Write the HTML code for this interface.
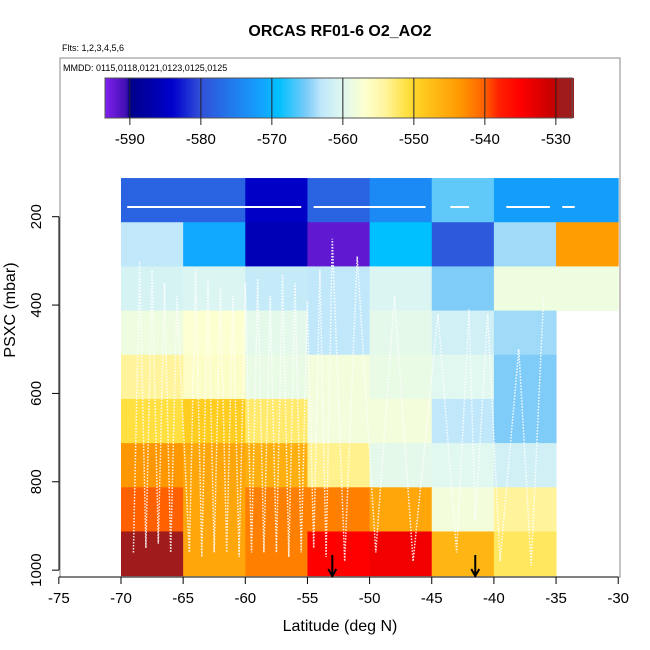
<!DOCTYPE html>
<html><head><meta charset="utf-8"><style>
body{margin:0;background:#fff}
svg{display:block;font-family:"Liberation Sans",sans-serif}
</style></head><body>
<svg id="c" width="650" height="650" viewBox="0 0 650 650" xmlns="http://www.w3.org/2000/svg">
<text x="340" y="36" text-anchor="middle" font-size="16" font-weight="bold">ORCAS RF01-6 O2_AO2</text>
<text x="62" y="51" font-size="9">Flts: 1,2,3,4,5,6</text>
<g id="cells"></g>
<g id="traces"></g>
<g id="cbar"></g>
<rect x="60" y="58" width="560" height="519" fill="none" stroke="#888" stroke-width="1"/>
<text x="63" y="71" font-size="9">MMDD: 0115,0118,0121,0123,0125,0125</text>
<g id="axes"></g>
<text x="340" y="631" text-anchor="middle" font-size="16">Latitude (deg N)</text>
<text transform="translate(15,310) rotate(-90)" text-anchor="middle" font-size="16">PSXC (mbar)</text>
</svg>
<script>
const latEdges=[-70,-65,-60,-55,-50,-45,-40,-35,-30];
const presEdges=[112.5,212.5,312.5,412.5,512.5,612.5,712.5,812.5,912.5,1012.5];
const cellValues=[
[-578,-578,-584.5,-578,-574,-566,-572,-572],
[-563,-571,-586,-592,-569,-579,-564,-544],
[-561,-560.5,-562.5,-563,-560.5,-565,-558.5,-558.5],
[-558.5,-557,-559.5,-563,-559.5,-561.5,-564,null],
[-554,-556.5,-559,-558,-559,-560,-565,null],
[-551,-549,-552.5,-558,-558,-563,-565,null],
[-543.5,-545,-546,-553.5,-559.5,-560,-561.5,null],
[-540,-545,-542,-542,-545,-558,-554,null],
[-528,-545,-542,-535,-534,-546.5,-552,null]];
const xTicks=[-75,-70,-65,-60,-55,-50,-45,-40,-35,-30];
const yTicks=[200,400,600,800,1000];
const cbTicks=[-590,-580,-570,-560,-550,-540,-530];
const arrowLats=[-53,-41.5];
const stopVals=[-593.5,-590.5,-590,-584,-580,-575,-571,-569,-565,-563,-560,-557,-554,-551,-549,-546,-543.5,-540,-538,-535,-530,-529.5,-527.7];
const stopCols=["#8020f0","#4010b0","#000088","#0000cd","#3050d8","#2080f0","#10a8ff","#00c0ff","#80ccf8","#c0e8fa","#e0f8f0","#fcffd0","#fff49c","#ffe040","#ffcc20","#ffb010","#ff9800","#ff6000","#ff2000","#ff0000","#c00000","#a01c1c","#a01c1c"];
const traceLats=[-69,-68.5,-68,-67.5,-67,-66.5,-66,-65.5,-64.5,-64,-63.5,-63,-62.5,-62,-61.5,-61,-60.5,-60,-59.5,-59,-58.5,-58,-57.5,-57,-56.5,-56,-55.5,-55,-54.5,-54,-53.5,-53,-52,-51,-49.5,-48,-46.5,-44.5,-43,-42,-41.5,-40.5,-39.5,-38,-37,-36];
const tracePres=[960,300,950,320,940,350,960,380,960,320,970,340,960,360,960,380,970,350,960,340,960,380,960,330,970,350,960,390,950,320,970,250,980,290,960,380,980,420,960,410,890,420,980,500,990,380];
const cruiseStart=[-69.5,-54.5,-43.5,-39,-34.5];
const cruiseEnd=[-55.5,-45.5,-42,-35.5,-33.5];
const cruisePres=178;
const X=l=>121+(l+70)*12.43;
const Y=p=>216.7+(p-200)*0.4418;
const CB=v=>105+(v+593.5)*7.1;
const NS="http://www.w3.org/2000/svg";
function hex(h){return [1,3,5].map(i=>parseInt(h.substr(i,2),16));}
function cmap(v){
 for(let i=0;i<stopVals.length-1;i++){
  if(v<=stopVals[i+1]){const t=Math.max(0,(v-stopVals[i])/(stopVals[i+1]-stopVals[i]));
   const a=hex(stopCols[i]),b=hex(stopCols[i+1]);
   return "rgb("+a.map((c,k)=>Math.round(c+(b[k]-c)*t)).join(",")+")";}
 }
 return stopCols[stopCols.length-1];
}
function mk(tag,attrs,parent){const e=document.createElementNS(NS,tag);for(const k in attrs)e.setAttribute(k,attrs[k]);parent.appendChild(e);return e;}
const cells=document.getElementById('cells');
cellValues.forEach((row,r)=>row.forEach((v,c)=>{
 if(v===null)return;
 const e=mk('rect',{x:X(latEdges[c]),y:Y(presEdges[r]),width:X(latEdges[c+1])-X(latEdges[c])+0.5,height:Y(presEdges[r+1])-Y(presEdges[r])+0.5,fill:cmap(v)},cells);
 
 
}));
const tr=document.getElementById('traces');
let d="";traceLats.forEach((l,i)=>{d+=(i?"L":"M")+X(l).toFixed(1)+" "+Y(tracePres[i]).toFixed(1);});
const pth=mk('path',{d:d,fill:"none",stroke:"#fff","stroke-width":1.5,"stroke-dasharray":"1.5 1.5",opacity:0.9},tr);


let cd="";cruiseStart.forEach((s,i)=>{cd+="M"+X(s)+" "+Y(cruisePres)+"H"+X(cruiseEnd[i]);});
const cruiseLine=mk('path',{d:cd,fill:"none",stroke:"#fff","stroke-width":2},tr);


arrowLats.forEach(l=>{
 const a=mk('path',{d:"M"+X(l)+" 555V576M"+(X(l)-4)+" 569L"+X(l)+" 576L"+(X(l)+4)+" 569",fill:"none",stroke:"#000","stroke-width":2},tr);
 
 
});
const cb=document.getElementById('cbar');
for(let v=-593.5;v<-527.7;v+=0.25){mk('rect',{x:CB(v),y:78,width:2.2,height:40,fill:cmap(v+0.125)},cb);}
mk('rect',{x:105,y:78,width:CB(-527.7)-105,height:40,fill:"none",stroke:"#555"},cb);
cbTicks.forEach(t=>{
 mk('line',{x1:CB(t),x2:CB(t),y1:78,y2:125,stroke:"#222","stroke-width":1},cb);
 const tx=mk('text',{x:CB(t),y:144,"text-anchor":"middle","font-size":15},cb);tx.textContent=t;
 
 
});
const ax=document.getElementById('axes');
mk('line',{x1:X(-75),x2:X(-30),y1:577,y2:577,stroke:"#000"},ax);
xTicks.forEach(t=>{mk('line',{x1:X(t),x2:X(t),y1:577,y2:584,stroke:"#000"},ax);
 const tx=mk('text',{x:X(t),y:603,"text-anchor":"middle","font-size":15},ax);tx.textContent=t;
 
 });
mk('line',{x1:59,x2:59,y1:Y(200),y2:Y(1000),stroke:"#000"},ax);
yTicks.forEach(t=>{mk('line',{x1:52,x2:59,y1:Y(t),y2:Y(t),stroke:"#000"},ax);
 const tx=mk('text',{transform:"translate(41,"+Y(t)+") rotate(-90)","text-anchor":"middle","font-size":15},ax);tx.textContent=t;
 
 });
</script>
</body></html>
